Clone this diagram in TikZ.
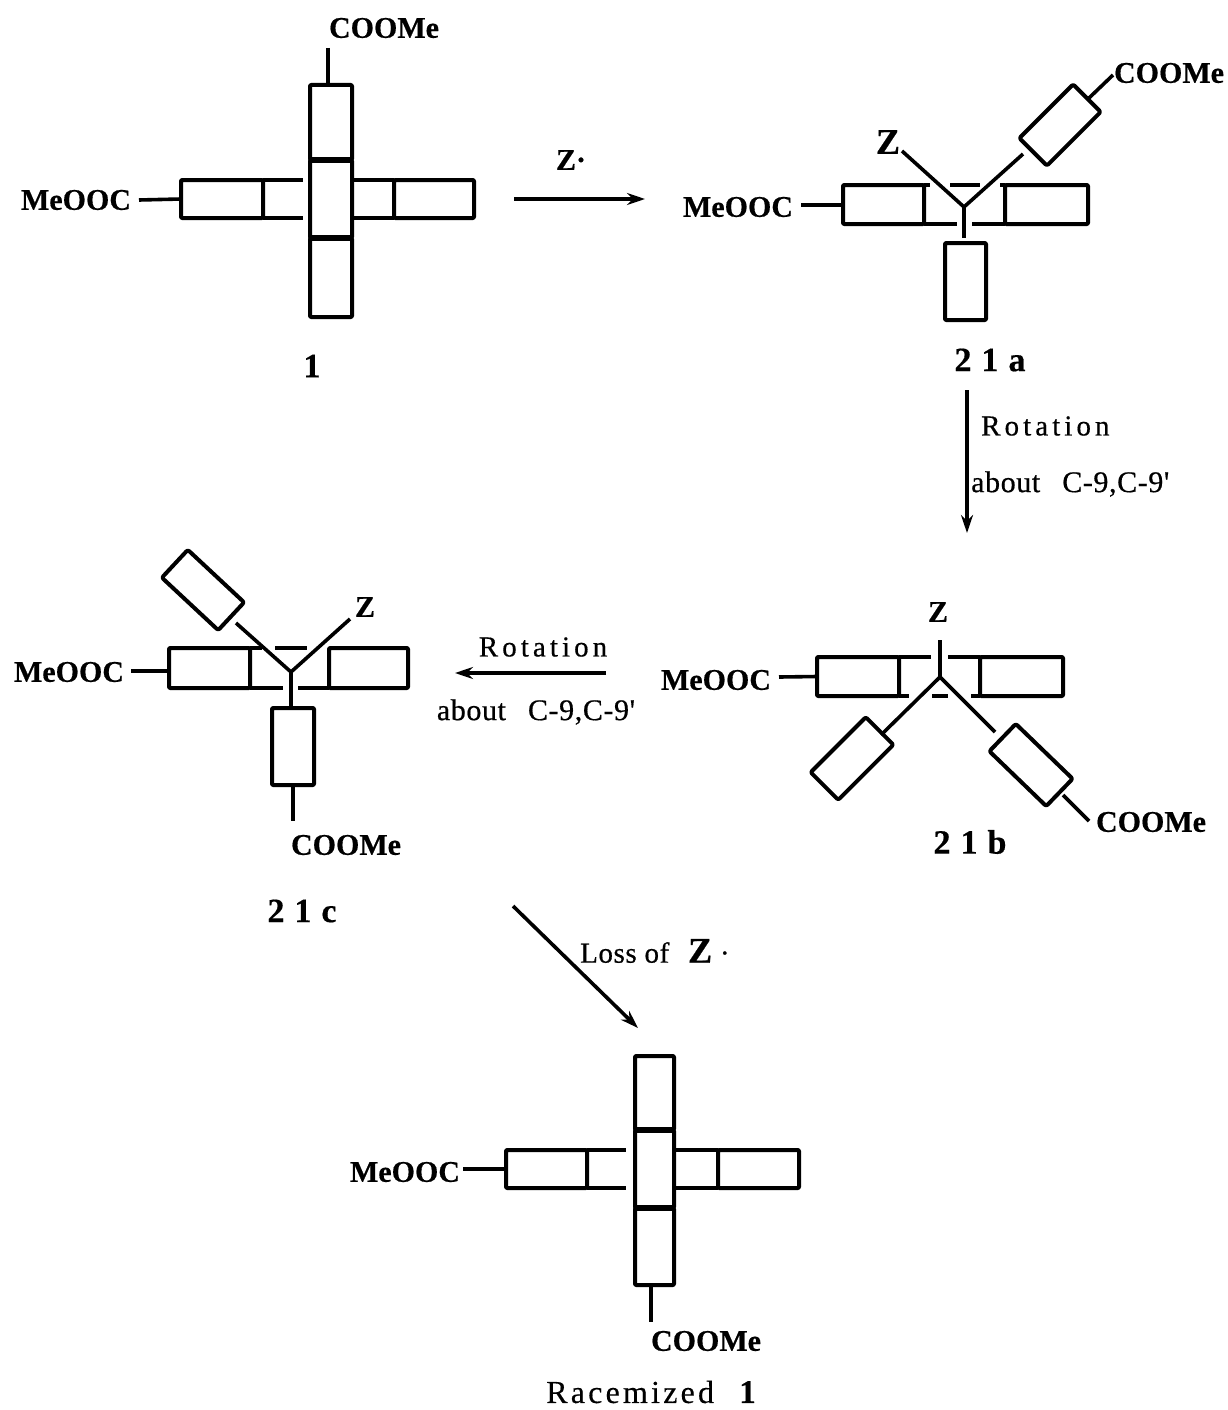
\documentclass[tikz,border=0pt]{standalone}
\usepackage{fontspec}
\setmainfont[BoldFeatures={FakeBold=0.5}]{Liberation Serif}
\usetikzlibrary{arrows.meta}
\newfontfamily\spacedfont[LetterSpace=14,FakeBold=0.5]{Liberation Serif}
\newfontfamily\spacedplain[LetterSpace=10,FakeBold=0.4]{Liberation Serif}
\newfontfamily\abtbase[LetterSpace=2,FakeBold=0.6]{Liberation Serif}
\newcommand{\labfont}{\fontsize{34}{35}\selectfont\bfseries\spaceskip 10pt\relax}
\newcommand{\abtfont}{\fontsize{30}{31}\selectfont\abtbase\spaceskip 22pt\relax}
\newcommand{\apos}{\symbol{39}}
\tikzset{
  x=1pt,y=-1pt,
  boxn/.style={draw=black,line width=4pt,inner sep=0pt,outer sep=0pt,line join=round,rounded corners=1pt},
  tiltn/.style={boxn,rounded corners=2pt},
  bond/.style={draw=black,line width=3.6pt},
  thickbar/.style={draw=black,line width=6pt},
  rarrow/.style={draw=black,line width=3.6pt,-{Stealth[length=18pt,width=12pt]}},
  grp/.style={inner sep=0pt,font=\fontsize{30}{31}\selectfont\bfseries},
  lab/.style={inner sep=0pt,font=\labfont},
  rot/.style={inner sep=0pt,font=\fontsize{29}{30}\selectfont\spacedfont},
  abt/.style={inner sep=0pt,font=\abtfont},
}
\newcommand{\rbx}[5]{\node[boxn,minimum width={(#4-#2)*1pt},minimum height={(#5-#3)*1pt}] (#1) at ({(#2+#4)/2},{(#3+#5)/2}) {};}
\newcommand{\tbx}[6]{\node[tiltn,minimum width=#4pt,minimum height=#5pt,rotate=#6] (#1) at (#2,#3) {};}
\begin{document}
\begin{tikzpicture}
\useasboundingbox (0,0) rectangle (1227,1410);

% ---------- compound 1 ----------
\rbx{pT}{310}{85}{352}{160}
\rbx{pM}{310}{160}{352}{238}
\rbx{pB}{310}{238}{352}{317}
\rbx{pL}{181}{180}{263}{218}
\rbx{pR}{394}{180}{474}{218}
\draw[thickbar] (pM.north west) -- (pM.north east);
\draw[thickbar] (pM.south west) -- (pM.south east);
\coordinate (pLu) at (303,180); \coordinate (pLd) at (303,218);
\draw[bond] (pL.north east) -- (pLu);
\draw[bond] (pL.south east) -- (pLd);
\coordinate (pRu) at (352,180); \coordinate (pRd) at (352,218);
\draw[bond] (pRu) -- (pR.north west);
\draw[bond] (pRd) -- (pR.south west);
\node[grp] (pCOOMe) at (384,28) {COOMe};
\node[grp] (pMe) at (76,200) {MeOOC};
\coordinate (pTb) at (328,48); \coordinate (pTa) at (328,85);
\draw[bond] (pTb) -- (pTa);
\coordinate (pLb) at (139,200);
\draw[bond] (pLb) -- (pL.west);
\node[lab] (pNum) at (312,366) {1};

% ---------- arrow 1 -> 21a ----------
\coordinate (a1s) at (514,199); \coordinate (a1e) at (645,199);
\draw[rarrow] (a1s) -- (a1e);
\node[grp] (zdot) at (571,160) {Z·};

% ---------- 21a ----------
\coordinate (ac) at (964,207);
\rbx{aL}{843}{185}{924}{224}
\rbx{aR}{1005}{185}{1088}{224}
\rbx{aB}{945}{243}{986}{320}
\tbx{aT}{1060}{125}{76}{39}{45}
\coordinate (aZe) at (902,151); \coordinate (aTe) at (1023,154);
\draw[bond] (aZe) -- (ac) -- (aTe);
\coordinate (aBe) at (964,238);
\draw[bond] (ac) -- (aBe);
\coordinate (abl) at (950,185); \coordinate (abr) at (980,185);
\draw[bond] (abl) -- (abr);
\coordinate (aLd) at (957,224); \coordinate (aRd) at (972,224);
\coordinate (aLu) at (930,185); \coordinate (aRu) at (1000,185);
\draw[bond] (aL.south east) -- (aLd);
\draw[bond] (aRd) -- (aR.south west);
\draw[bond] (aL.north east) -- (aLu);
\draw[bond] (aRu) -- (aR.north west);
\node[grp,font=\fontsize{36}{37}\selectfont\bfseries] (aZ) at (888,142) {Z};
\node[grp] (aCOOMe) at (1169,73) {COOMe};
\node[grp] (aMe) at (738,207) {MeOOC};
\coordinate (aTb) at (1113,75);
\coordinate (aTbs) at (1089,98);
\draw[bond] (aTbs) -- (aTb);
\coordinate (aLb) at (801,205);
\draw[bond] (aLb) -- (843,205);
\node[lab] (aNum) at (990,360) {2 1 a};

% ---------- arrow 21a -> 21b ----------
\coordinate (a2s) at (967,390); \coordinate (a2e) at (967,533);
\draw[rarrow] (a2s) -- (a2e);
\node[rot,anchor=west] (a2t) at (981,426) {Rotation};
\node[abt,anchor=west] (a2u) at (971,484) {about C-9,C-9\apos};

% ---------- 21b ----------
\coordinate (bc) at (940,677);
\rbx{bL}{817}{657}{899}{696}
\rbx{bR}{980}{657}{1063}{696}
\tbx{bA}{852}{758.5}{78}{39}{45}
\tbx{bC}{1031}{765}{79}{38}{-44}
\coordinate (bZe) at (940,640);
\draw[bond] (bZe) -- (bc);
\coordinate (bAe) at (881,735); \coordinate (bCe) at (995,732);
\draw[bond] (bAe) -- (bc) -- (bCe);
\coordinate (bul) at (931,657); \coordinate (bur) at (948,657);
\draw[bond] (bL.north east) -- (bul);
\draw[bond] (bur) -- (bR.north west);
\coordinate (bdl) at (909,696); \coordinate (bdr) at (971,696);
\draw[bond] (bL.south east) -- (bdl);
\draw[bond] (bdr) -- (bR.south west);
\coordinate (bbl) at (932,696); \coordinate (bbr) at (948,696);
\draw[bond,line width=4pt] (bbl) -- (bbr);
\node[grp] (bZ) at (938,612) {Z};
\node[grp] (bMe) at (716,680) {MeOOC};
\node[grp] (bCOOMe) at (1151,822) {COOMe};
\coordinate (bLb) at (779,677);
\draw[bond] (bLb) -- (bL.west);
\coordinate (bCb) at (1089,821); \coordinate (bCa) at (1063,795);
\draw[bond] (bCa) -- (bCb);
\node[lab] (bNum) at (970,842) {2 1 b};

% ---------- arrow 21b -> 21c ----------
\coordinate (a3s) at (606,673); \coordinate (a3e) at (455,673);
\draw[rarrow] (a3s) -- (a3e);
\node[rot] (a3t) at (543,647) {Rotation};
\node[abt] (a3u) at (536,712) {about C-9,C-9\apos};

% ---------- 21c ----------
\coordinate (cc) at (291,672);
\rbx{cL}{169}{648}{250}{688}
\rbx{cR}{329}{648}{408}{688}
\rbx{cB}{272}{708}{314}{785}
\tbx{cA}{203}{590}{77}{38}{-43}
\coordinate (cAe) at (236,623); \coordinate (cZe) at (350,619);
\draw[bond] (cAe) -- (cc) -- (cZe);
\draw[bond] (cc) -- (cB.north -| cc);
\coordinate (cbl) at (275,648); \coordinate (cbr) at (307,648);
\draw[bond] (cbl) -- (cbr);
\coordinate (cLu) at (262,648); \coordinate (cLd) at (283,688); \coordinate (cRd) at (298,688);
\draw[bond] (cL.north east) -- (cLu);
\draw[bond] (cL.south east) -- (cLd);
\draw[bond] (cRd) -- (cR.south west);
\node[grp] (cZ) at (365,607) {Z};
\node[grp] (cMe) at (69,672) {MeOOC};
\node[grp] (cCOOMe) at (346,845) {COOMe};
\coordinate (cLb) at (131,671);
\draw[bond] (cLb) -- (169,671);
\coordinate (cBa) at (293,785); \coordinate (cBb) at (293,821);
\draw[bond] (cBa) -- (cBb);
\node[lab] (cNum) at (302,911) {2 1 c};

% ---------- arrow 21c -> racemized ----------
\coordinate (a4s) at (513,906); \coordinate (a4e) at (638,1028);
\draw[rarrow] (a4s) -- (a4e);
\node[inner sep=0pt,anchor=west,font=\fontsize{29}{30}\selectfont\abtbase] (a4t) at (580,951) {Loss of\hspace{11pt} {\fontsize{36}{36}\selectfont\bfseries Z} ·};

% ---------- racemized 1 ----------
\rbx{dT}{635}{1056}{674}{1130}
\rbx{dM}{635}{1130}{674}{1208}
\rbx{dB}{635}{1208}{674}{1285}
\rbx{dL}{506}{1150}{587}{1188}
\rbx{dR}{718}{1150}{799}{1188}
\draw[thickbar] (dM.north west) -- (dM.north east);
\draw[thickbar] (dM.south west) -- (dM.south east);
\coordinate (dLu) at (626,1150); \coordinate (dLd) at (626,1188);
\draw[bond] (dL.north east) -- (dLu);
\draw[bond] (dL.south east) -- (dLd);
\coordinate (dRu) at (674,1150); \coordinate (dRd) at (674,1188);
\draw[bond] (dRu) -- (dR.north west);
\draw[bond] (dRd) -- (dR.south west);
\node[grp] (dMe) at (405,1172) {MeOOC};
\node[grp] (dCOOMe) at (706,1341) {COOMe};
\coordinate (dLb) at (463,1169);
\draw[bond] (dLb) -- (dL.west);
\coordinate (dBa) at (651,1285); \coordinate (dBb) at (651,1322);
\draw[bond] (dBa) -- (dBb);
\node[inner sep=0pt,font=\fontsize{32}{33}\selectfont\spacedplain] (dNum) at (651,1392) {Racemized\hspace{14pt} {\fontsize{33}{33}\selectfont\bfseries 1}};
\end{tikzpicture}
\end{document}
